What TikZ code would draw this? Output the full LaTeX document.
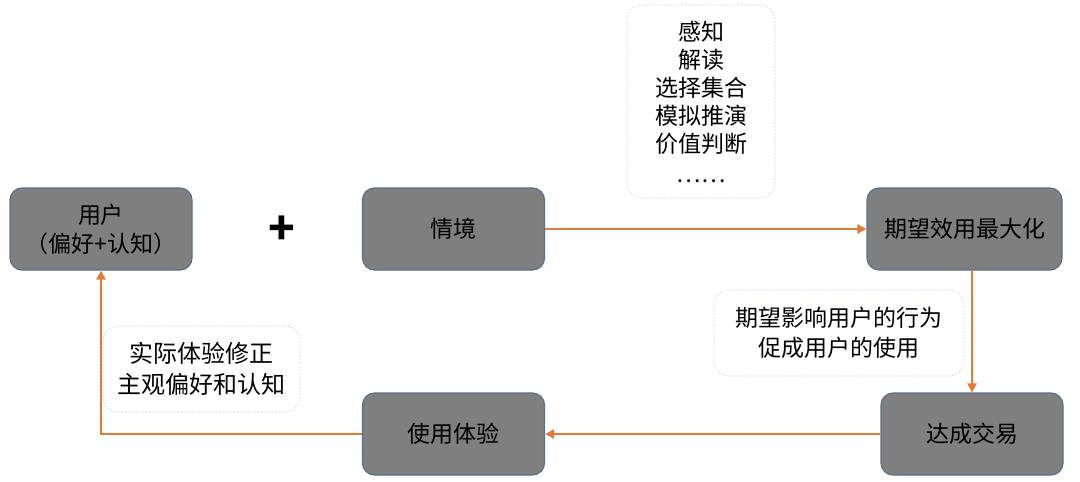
\documentclass[tikz,border=0pt]{standalone}
\usepackage{fontspec}
\setmainfont{Noto Sans CJK SC}
\usetikzlibrary{arrows.meta}
\definecolor{boxfill}{HTML}{7F7F7F}
\definecolor{boxedge}{HTML}{5B6F8A}
\definecolor{arr}{HTML}{E07B3A}
\definecolor{dashc}{HTML}{C3D4E6}
\begin{document}
\begin{tikzpicture}[x=1pt,y=-1pt,
  gbox/.style={draw=boxedge, line width=1.2pt, fill=boxfill, rounded corners=12pt,
    minimum width=182pt, minimum height=82pt, align=center, inner sep=0pt,
    font=\fontsize{23}{29}\selectfont, text=black},
  note/.style={draw=dashc, dash pattern=on 2pt off 1.5pt, line width=0.6pt, fill=white,
    rounded corners=15pt, align=center, inner sep=0pt, text=black},
  flow/.style={draw=arr, line width=2.8pt, -{Triangle[length=9pt,width=9pt]}}]
\useasboundingbox[fill=white] (0,0) rectangle (1080,482);
% boxes
\node[gbox] (user) at (101,229) {用户\\（偏好+认知）};
\node[gbox] (sit) at (453.5,229) {情境};
\node[gbox, minimum width=195pt] (max) at (964.5,229) {期望效用最大化};
\node[gbox] (exp) at (453.5,434) {使用体验};
\node[gbox] (deal) at (972,434) {达成交易};
\node[font=\fontsize{44}{44}\selectfont\bfseries] (plus) at (282,230) {+};
% notes
\node[note, minimum width=148pt, minimum height=193pt, font=\fontsize{23}{28}\selectfont] (top) at (701,101.5)
  {感知\\解读\\选择集合\\模拟推演\\价值判断\\[2pt]……};
\node[note, minimum width=250pt, minimum height=86pt, font=\fontsize{23}{30}\selectfont] (mid) at (839,333)
  {期望影响用户的行为\\促成用户的使用};
\node[note, minimum width=197pt, minimum height=86pt, font=\fontsize{24}{31}\selectfont] (left) at (201.5,369)
  {实际体验修正\\主观偏好和认知};
% connectors
\coordinate (corner) at (101,434);
\coordinate (maxb) at (972,270);
\draw[flow] (sit.east) -- (max.west);
\draw[flow] (maxb) -- (deal.north);
\draw[flow] (deal.west) -- (exp.east);
\draw[flow] (exp.west) -- (corner) -- (user.south);
\end{tikzpicture}
\end{document}
